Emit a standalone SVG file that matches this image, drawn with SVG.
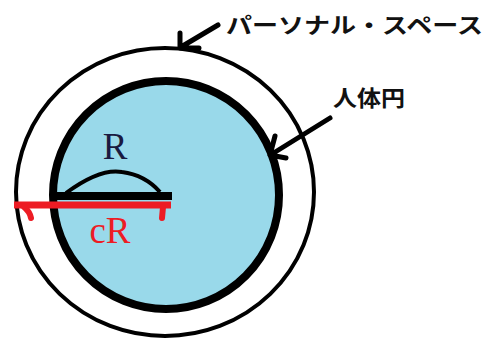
<svg xmlns="http://www.w3.org/2000/svg" width="485" height="338" viewBox="0 0 485 338">
<style>
.lbl{font-family:"Noto Sans CJK JP","Noto Sans",sans-serif;font-weight:bold;font-size:22px;fill:#111}
.sym{font-family:"Liberation Serif","Times New Roman",serif;font-size:37px}
.arr{stroke:#000;stroke-width:5;fill:none;stroke-linecap:round;stroke-linejoin:round}
</style>
<rect width="485" height="338" fill="#fff"/>
<g id="personal-space">
<ellipse cx="165" cy="192" rx="149" ry="144" fill="none" stroke="#000" stroke-width="4"/>
</g>
<g id="body-circle">
<ellipse cx="166" cy="195" rx="113" ry="114" fill="#99d9ea" stroke="#000" stroke-width="8"/>
</g>
<g id="radius">
<line x1="52" y1="196" x2="172" y2="196" stroke="#000" stroke-width="8"/>
<path d="M66,193 Q100,168 122,172 Q145,175 160,192" fill="none" stroke="#000" stroke-width="4"/>
<text class="sym" x="115" y="159" text-anchor="middle" fill="#1a1a40">R</text>
</g>
<g id="c-radius">
<line x1="14" y1="205" x2="171" y2="205" stroke="#ed1c24" stroke-width="7"/>
<path d="M24,207 Q30,212 31,218" fill="none" stroke="#ed1c24" stroke-width="6" stroke-linecap="round"/>
<path d="M163,207 L162,218" fill="none" stroke="#ed1c24" stroke-width="6" stroke-linecap="round"/>
<text class="sym" x="110" y="243" text-anchor="middle" fill="#ed1c24">cR</text>
</g>
<g id="connectors">
<path class="arr" d="M218,25 L181,47 M180,33 L180,48 L199,48"/>
<path class="arr" d="M330,118 L272,154 M275,136 L270,155 L286,158"/>
</g>
<g id="labels">
<text class="lbl" x="226" y="33" textLength="257" lengthAdjust="spacingAndGlyphs">パーソナル・スペース</text>
<text class="lbl" x="333" y="106" textLength="72" lengthAdjust="spacingAndGlyphs">人体円</text>
</g>
</svg>
